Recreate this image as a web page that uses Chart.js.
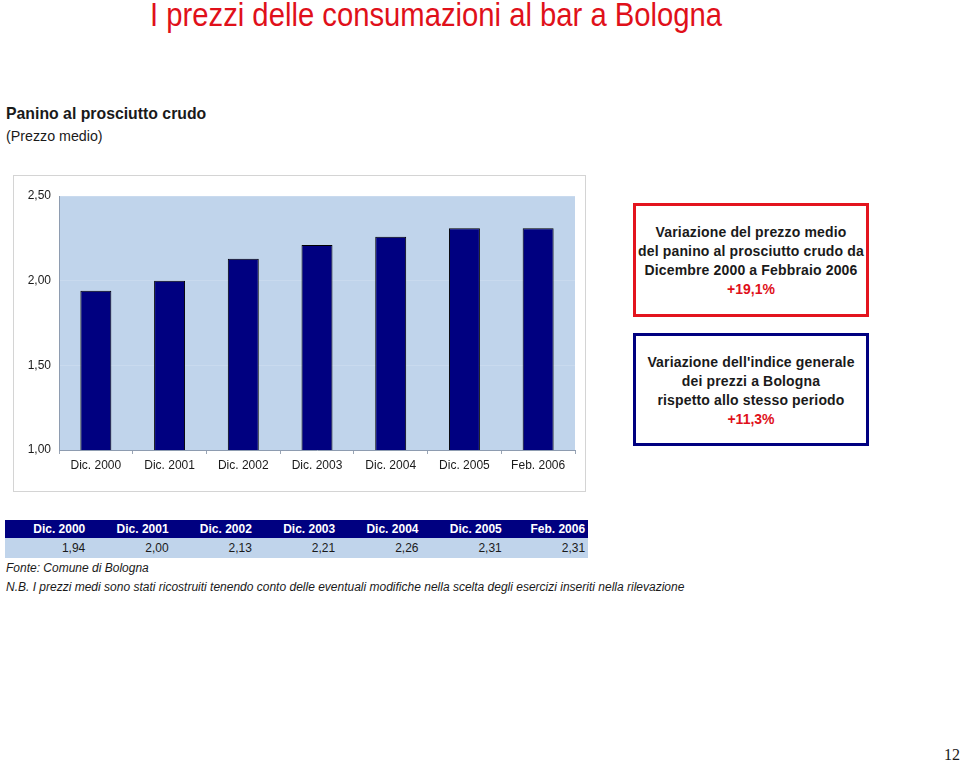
<!DOCTYPE html>
<html lang="it">
<head>
<meta charset="UTF-8">
<title>Panino al prosciutto crudo</title>
<style>
  body {
    margin: 0;
    background: #fff;
    width: 960px;
    height: 761px;
    position: relative;
    overflow: hidden;
    font-family: 'Liberation Sans', Arial, sans-serif;
    color: #1a1a1a;
  }
  .abs { position: absolute; }
  #titolo {
    left: 150px; top: -5px;
    font-size: 34px;
    color: #e0101a;
    white-space: nowrap;
    transform: scaleX(0.86);
    transform-origin: left top;
  }
  #sottotitolo {
    left: 6px; top: 104px;
    font-weight: bold;
    font-size: 17px;
    white-space: nowrap;
    transform: scaleX(0.93);
    transform-origin: left top;
  }
  #unita {
    left: 6px; top: 127px;
    font-size: 15px;
    white-space: nowrap;
    transform: scaleX(0.95);
    transform-origin: left top;
  }
  #cornice {
    left: 13px; top: 175px;
    width: 571px; height: 315px;
    border: 1px solid #d4d4d4;
  }
  #grafico { left: 14px; top: 176px; }
  .box {
    left: 633px;
    width: 236px;
    text-align: center;
    font-size: 14px;
    font-weight: bold;
    letter-spacing: 0.15px;
    line-height: 19px;
    box-sizing: border-box;
    white-space: nowrap;
  }
  .box .perc { color: #e0101a; letter-spacing: 0; }
  #box1 { top: 203px; height: 114px; border: 3px solid #e3141e; padding-top: 17px; }
  #box2 { top: 333px; height: 113px; border: 3px solid #000080; padding-top: 17px; }
  #tabella {
    left: 5px; top: 520px;
    border-collapse: collapse;
    font-size: 12px;
  }
  #tabella td {
    width: 83.3px;
    padding: 0 3px 0 0;
    text-align: right;
    box-sizing: border-box;
  }
  #tabella tr.testa td { background: #000080; color: #fff; font-weight: bold; height: 18px; }
  #tabella tr.valori td { background: #c0d4eb; color: #1a1a1a; height: 20px; }
  .nota { left: 6px; font-size: 12px; font-style: italic; white-space: nowrap; }
  #pagina {
    left: 944px; top: 746px;
    font-family: 'Liberation Serif', serif;
    font-size: 16px;
  }
</style>
<script src="https://cdn.jsdelivr.net/npm/chart.js"></script>
</head>
<body>

<div class="abs" id="titolo">I prezzi delle consumazioni al bar a Bologna</div>
<div class="abs" id="sottotitolo">Panino al prosciutto crudo</div>
<div class="abs" id="unita">(Prezzo medio)</div>

<div class="abs" id="cornice"></div>
<canvas class="abs" id="grafico" width="570" height="314"></canvas>

<div class="abs box" id="box1">
  Variazione del prezzo medio<br>
  del panino al prosciutto crudo da<br>
  Dicembre 2000 a Febbraio 2006<br>
  <span class="perc">+19,1%</span>
</div>
<div class="abs box" id="box2">
  Variazione dell'indice generale<br>
  dei prezzi a Bologna<br>
  rispetto allo stesso periodo<br>
  <span class="perc">+11,3%</span>
</div>

<table class="abs" id="tabella"></table>

<div class="abs nota" style="top:561px">Fonte: Comune di Bologna</div>
<div class="abs nota" style="top:580px">N.B. I prezzi medi sono stati ricostruiti tenendo conto delle eventuali modifiche nella scelta degli esercizi inseriti nella rilevazione</div>

<div class="abs" id="pagina">12</div>

<script>
  // dati
  const periodi = ['Dic. 2000', 'Dic. 2001', 'Dic. 2002', 'Dic. 2003', 'Dic. 2004', 'Dic. 2005', 'Feb. 2006'];
  const prezzi = [1.94, 2.00, 2.13, 2.21, 2.26, 2.31, 2.31];
  const tickY = [1.00, 1.50, 2.00, 2.50];

  function virgola(v, dec) {
    return v.toFixed(dec).replace('.', ',');
  }

  // tabella sotto il grafico
  const tab = document.getElementById('tabella');
  const rigaTesta = document.createElement('tr');
  rigaTesta.className = 'testa';
  periodi.forEach(p => {
    const td = document.createElement('td');
    td.textContent = p;
    rigaTesta.appendChild(td);
  });
  tab.appendChild(rigaTesta);
  const rigaValori = document.createElement('tr');
  rigaValori.className = 'valori';
  prezzi.forEach(v => {
    const td = document.createElement('td');
    td.textContent = virgola(v, 2);
    rigaValori.appendChild(td);
  });
  tab.appendChild(rigaValori);

  // sfondo azzurro dell'area del grafico
  const sfondoArea = {
    id: 'sfondoArea',
    beforeDraw(chart) {
      const a = chart.chartArea;
      const ctx = chart.ctx;
      ctx.save();
      ctx.fillStyle = '#c0d4eb';
      ctx.fillRect(a.left, a.top, a.right - a.left, a.bottom - a.top);
      ctx.restore();
    }
  };

  new Chart(document.getElementById('grafico'), {
    type: 'bar',
    data: {
      labels: periodi,
      datasets: [{
        data: prezzi,
        backgroundColor: '#000080',
        borderColor: '#000000',
        borderWidth: 1,
        barPercentage: 0.42,
        categoryPercentage: 1
      }]
    },
    options: {
      responsive: false,
      animation: false,
      layout: { padding: { top: 20, right: 9, left: 0, bottom: 0 } },
      plugins: {
        legend: { display: false },
        tooltip: { enabled: false }
      },
      scales: {
        x: {
          afterFit(scale) { scale.height = 40; },
          grid: {
            offset: true,
            drawOnChartArea: false,
            drawTicks: true,
            tickLength: 4,
            color: '#9aa5b5'
          },
          border: { color: '#8e9cb0' },
          ticks: {
            color: '#1a1a1a',
            font: { family: 'Liberation Sans', size: 12 },
            padding: 4,
            maxRotation: 0
          }
        },
        y: {
          min: 1,
          max: 2.5,
          afterFit(scale) { scale.width = 45; },
          afterBuildTicks(scale) { scale.ticks = tickY.map(v => ({ value: v })); },
          grid: {
            drawTicks: false,
            color: 'rgba(255,255,255,0.15)'
          },
          border: { color: '#8e9cb0' },
          ticks: {
            color: '#1a1a1a',
            font: { family: 'Liberation Sans', size: 12 },
            padding: 8,
            callback: v => virgola(v, 2)
          }
        }
      }
    },
    plugins: [sfondoArea]
  });
</script>
</body>
</html>
